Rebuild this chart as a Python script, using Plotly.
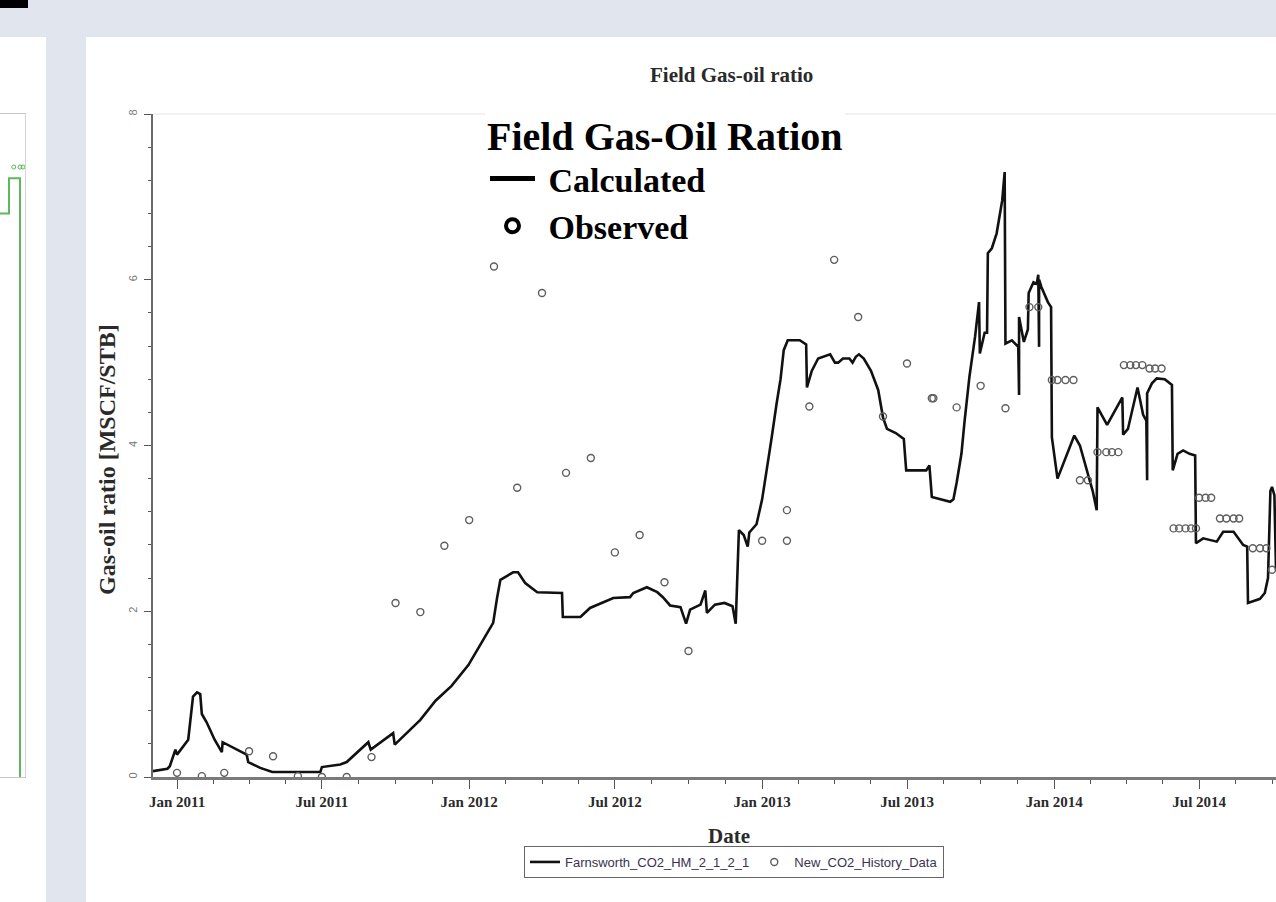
import pandas as pd
import plotly.graph_objects as go

W, H = 1276, 902

# ---- Simulated field gas-oil ratio (MSCF/STB) ----
calc_dates = [
    "2010-12-01", "2010-12-20", "2010-12-23", "2010-12-30", "2011-01-01", "2011-01-11",
    "2011-01-15", "2011-01-21", "2011-01-26", "2011-01-30", "2011-02-01", "2011-02-07",
    "2011-02-17", "2011-02-26", "2011-02-27", "2011-03-29", "2011-03-31", "2011-04-15",
    "2011-04-30", "2011-06-29", "2011-07-01", "2011-07-24", "2011-08-01", "2011-08-28",
    "2011-08-31", "2011-09-28", "2011-09-30", "2011-11-01", "2011-11-20", "2011-12-10",
    "2011-12-20", "2011-12-31", "2012-01-11", "2012-01-31", "2012-02-05", "2012-02-09",
    "2012-02-25", "2012-03-02", "2012-03-11", "2012-03-26", "2012-04-26", "2012-04-27",
    "2012-05-19", "2012-05-31", "2012-06-29", "2012-07-20", "2012-07-24", "2012-08-10",
    "2012-08-23", "2012-08-30", "2012-09-08", "2012-09-21", "2012-09-28", "2012-10-03",
    "2012-10-16", "2012-10-22", "2012-10-24", "2012-11-03", "2012-11-15", "2012-11-25",
    "2012-11-29", "2012-12-03", "2012-12-09", "2012-12-14", "2012-12-16", "2012-12-25",
    "2013-01-01", "2013-01-07", "2013-01-13", "2013-01-19", "2013-01-24", "2013-01-28",
    "2013-02-02", "2013-02-17", "2013-02-25", "2013-02-26", "2013-03-04", "2013-03-12",
    "2013-03-27", "2013-04-02", "2013-04-06", "2013-04-12", "2013-04-20", "2013-04-24",
    "2013-04-28", "2013-05-02", "2013-05-08", "2013-05-17", "2013-05-26", "2013-06-01",
    "2013-06-06", "2013-06-17", "2013-06-27", "2013-06-30", "2013-07-25", "2013-07-29",
    "2013-08-01", "2013-08-24", "2013-08-28", "2013-09-01", "2013-09-07", "2013-09-11",
    "2013-09-17", "2013-09-24", "2013-09-29", "2013-09-30", "2013-10-06", "2013-10-09",
    "2013-10-10", "2013-10-15", "2013-10-21", "2013-10-28", "2013-10-31", "2013-11-01",
    "2013-11-09", "2013-11-17", "2013-11-18", "2013-11-18", "2013-11-24", "2013-11-29",
    "2013-11-30", "2013-12-06", "2013-12-10", "2013-12-12", "2013-12-13", "2013-12-13",
    "2013-12-16", "2013-12-24", "2013-12-28", "2013-12-29", "2014-01-05", "2014-01-15",
    "2014-01-26", "2014-02-02", "2014-02-12", "2014-02-18", "2014-02-23", "2014-02-24",
    "2014-03-08", "2014-03-27", "2014-03-28", "2014-04-03", "2014-04-15", "2014-04-22",
    "2014-04-26", "2014-04-27", "2014-04-27", "2014-05-03", "2014-05-09", "2014-05-19",
    "2014-05-28", "2014-05-29", "2014-06-04", "2014-06-11", "2014-06-19", "2014-06-26",
    "2014-06-27", "2014-07-06", "2014-07-23", "2014-07-31", "2014-08-13", "2014-08-25",
    "2014-08-30", "2014-08-31", "2014-09-15", "2014-09-21", "2014-09-25", "2014-09-28",
    "2014-09-30", "2014-10-03", "2014-10-05",
]
calc_values = [
    0.07, 0.10, 0.13, 0.33, 0.27, 0.39,
    0.45, 0.97, 1.02, 1.00, 0.76, 0.66,
    0.45, 0.30, 0.42, 0.27, 0.18, 0.11,
    0.06, 0.06, 0.12, 0.15, 0.18, 0.42,
    0.33, 0.53, 0.39, 0.69, 0.92, 1.10,
    1.22, 1.35, 1.53, 1.86, 2.17, 2.38,
    2.47, 2.47, 2.34, 2.23, 2.22, 1.93,
    1.93, 2.04, 2.16, 2.17, 2.22, 2.29,
    2.23, 2.17, 2.07, 2.05, 1.85, 2.02,
    2.08, 2.25, 1.98, 2.08, 2.10, 2.06,
    1.85, 2.98, 2.92, 2.78, 2.95, 3.05,
    3.35, 3.70, 4.10, 4.50, 4.80, 5.15,
    5.27, 5.27, 5.22, 4.70, 4.90, 5.05,
    5.10, 5.00, 5.00, 5.05, 5.05, 5.00,
    5.07, 5.10, 5.05, 4.90, 4.67, 4.34,
    4.20, 4.15, 4.08, 3.70, 3.70, 3.76,
    3.38, 3.32, 3.35, 3.55, 3.90, 4.30,
    4.83, 5.31, 5.73, 5.11, 5.36, 5.36,
    6.32, 6.38, 6.56, 6.96, 7.30, 5.23,
    5.27, 5.19, 4.61, 5.55, 5.25, 5.40,
    5.84, 5.97, 5.95, 6.06, 5.19, 6.00,
    5.91, 5.73, 5.67, 4.10, 3.60, 3.85,
    4.12, 4.00, 3.65, 3.45, 3.22, 4.46,
    4.25, 4.58, 4.13, 4.20, 4.70, 4.37,
    4.30, 3.58, 4.63, 4.75, 4.81, 4.80,
    4.73, 3.70, 3.90, 3.94, 3.90, 3.88,
    2.82, 2.88, 2.84, 2.96, 2.96, 2.80,
    2.78, 2.10, 2.15, 2.22, 2.40, 3.45,
    3.50, 3.40, 2.50,
]

# ---- Field history data (MSCF/STB) ----
obs_dates = [
    "2011-01-01", "2011-02-01", "2011-03-01", "2011-04-01", "2011-05-01", "2011-06-01",
    "2011-07-01", "2011-08-01", "2011-09-01", "2011-10-01", "2011-11-01", "2011-12-01",
    "2012-01-01", "2012-02-01", "2012-03-01", "2012-04-01", "2012-05-01", "2012-06-01",
    "2012-07-01", "2012-08-01", "2012-09-01", "2012-10-01", "2013-01-01", "2013-02-01",
    "2013-02-01", "2013-03-01", "2013-04-01", "2013-05-01", "2013-06-01", "2013-07-01",
    "2013-08-01", "2013-08-03", "2013-09-01", "2013-10-01", "2013-11-01", "2013-12-01",
    "2013-12-12", "2013-12-29", "2014-01-05", "2014-01-15", "2014-01-25", "2014-02-02",
    "2014-02-12", "2014-02-24", "2014-03-07", "2014-03-14", "2014-03-22", "2014-03-29",
    "2014-04-06", "2014-04-13", "2014-04-21", "2014-04-30", "2014-05-07", "2014-05-15",
    "2014-05-30", "2014-06-06", "2014-06-14", "2014-06-21", "2014-06-27", "2014-07-01",
    "2014-07-09", "2014-07-16", "2014-07-27", "2014-08-04", "2014-08-13", "2014-08-20",
    "2014-09-06", "2014-09-15", "2014-09-23", "2014-09-30",
]
obs_values = [
    0.05, 0.01, 0.05, 0.31, 0.25, 0.01,
    0.00, 0.00, 0.24, 2.10, 1.99, 2.79,
    3.10, 6.16, 3.49, 5.84, 3.67, 3.85,
    2.71, 2.92, 2.35, 1.52, 2.85, 2.85,
    3.22, 4.47, 6.24, 5.55, 4.35, 4.99,
    4.57, 4.57, 4.46, 4.72, 4.45, 5.67,
    5.67, 4.79, 4.79, 4.79, 4.79, 3.58,
    3.58, 3.92, 3.92, 3.92, 3.92, 4.97,
    4.97, 4.97, 4.97, 4.93, 4.93, 4.93,
    3.00, 3.00, 3.00, 3.00, 3.00, 3.37,
    3.37, 3.37, 3.12, 3.12, 3.12, 3.12,
    2.76, 2.76, 2.76, 2.50,
]

# ---- Neighbouring panel (partly visible on the left) ----
side_x = [0.0, 0.36, 0.36, 0.80, 0.80]
side_y = [0.85, 0.85, 0.903, 0.903, 0.0]
side_pts_x = [0.55, 0.80, 0.92]
side_pts_y = [0.92, 0.92, 0.92]

y_ticks = [0, 2, 4, 6, 8]
x_range = ["2010-12-02", "2014-10-05"]

SERIF = "Liberation Serif"
SANS = "Liberation Sans"
BG = "#e0e5ee"
NBSP = "\u00a0"


def px_x(p):
    return p / W


def px_y(p):
    return 1 - p / H


# minor date ticks: three between each Jan / Jul pair
majors = pd.date_range("2010-07-01", "2015-01-01", freq="6MS")
minor_ticks = []
for a, b in zip(majors[:-1], majors[1:]):
    for f in (0.25, 0.5, 0.75):
        minor_ticks.append(a + (b - a) * f)

fig = go.Figure()

fig.add_trace(go.Scatter(
    x=calc_dates, y=calc_values, mode="lines", name="Farnsworth_CO2_HM_2_1_2_1",
    line=dict(color="#111111", width=2.6), legend="legend",
))
fig.add_trace(go.Scatter(
    x=obs_dates, y=obs_values, mode="markers", name="New_CO2_History_Data",
    marker=dict(symbol="circle-open", size=7, color="#5e5e5e", line=dict(width=1.4)),
    legend="legend",
))

# key added over the plot
fig.add_trace(go.Scatter(
    x=[None], y=[None], mode="lines", name=NBSP + "Calculated",
    line=dict(color="black", width=5), legend="legend2",
))
fig.add_trace(go.Scatter(
    x=[None], y=[None], mode="markers", name=NBSP + "Observed",
    marker=dict(symbol="circle-open", size=13, color="black", line=dict(width=4)),
    legend="legend2",
))

# left neighbour panel
fig.add_trace(go.Scatter(
    x=side_x, y=side_y, mode="lines", xaxis="x2", yaxis="y2", showlegend=False,
    line=dict(color="#5cb85c", width=2),
))
fig.add_trace(go.Scatter(
    x=side_pts_x, y=side_pts_y, mode="markers", xaxis="x2", yaxis="y2", showlegend=False,
    marker=dict(symbol="circle-open", size=4, color="#5cb85c", line=dict(width=1)),
))

y_dom = [px_y(777), px_y(114)]

shapes = [
    dict(type="rect", xref="paper", yref="paper", x0=px_x(86), x1=1, y0=0, y1=px_y(37),
         fillcolor="white", line_width=0, layer="below"),
    dict(type="rect", xref="paper", yref="paper", x0=0, x1=px_x(46), y0=0, y1=px_y(37),
         fillcolor="white", line_width=0, layer="below"),
    dict(type="rect", xref="paper", yref="paper", x0=0, x1=px_x(28), y0=px_y(8), y1=1,
         fillcolor="black", line_width=0, layer="below"),
    dict(type="line", xref="x domain", yref="y domain", x0=0, x1=1, y0=1, y1=1,
         line=dict(color="#ececec", width=1.5), layer="below"),
]

annotations = [
    dict(text="Field Gas-oil ratio", x=px_x(731), y=px_y(75), xref="paper", yref="paper",
         showarrow=False, xanchor="center", yanchor="middle",
         font=dict(family=SERIF, size=21, color="#2a2a2a", weight="bold")),
    dict(text="Date", x=px_x(729), y=px_y(836), xref="paper", yref="paper",
         showarrow=False, xanchor="center", yanchor="middle",
         font=dict(family=SERIF, size=21, color="#2a2a2a", weight="bold")),
    dict(text="Gas-oil ratio [MSCF/STB]", x=px_x(107), y=px_y(459), xref="paper", yref="paper",
         showarrow=False, xanchor="center", yanchor="middle", textangle=-90,
         font=dict(family=SERIF, size=24, color="#2a2a2a", weight="bold")),
]

fig.update_layout(
    width=W, height=H,
    margin=dict(l=0, r=0, t=0, b=0, autoexpand=False),
    paper_bgcolor=BG, plot_bgcolor="white",
    shapes=shapes, annotations=annotations,
    xaxis=dict(
        domain=[px_x(153), 1], range=x_range, type="date",
        tick0="2011-01-01", dtick="M6", tickformat="%b %Y",
        ticks="outside", ticklen=9, tickwidth=1.2, tickcolor="#555",
        showline=True, linecolor="#7a7a7a", linewidth=2.5,
        showgrid=False, zeroline=False,
        tickfont=dict(family=SERIF, size=15, color="#2a2a2a", weight="bold"),
        minor=dict(tickmode="array", tickvals=minor_ticks, ticks="outside",
                   ticklen=4, tickcolor="#555", tickwidth=1.2),
    ),
    yaxis=dict(
        domain=y_dom, range=[0, 8], tickvals=y_ticks,
        ticks="outside", ticklen=7, tickwidth=1.2, tickcolor="#555",
        showline=True, linecolor="#6a6a6a", linewidth=2,
        showgrid=False, zeroline=False, tickangle=-90, ticklabelstandoff=3,
        tickfont=dict(family=SANS, size=11, color="#777"),
        minor=dict(dtick=0.4, ticks="outside", ticklen=3, tickcolor="#555", tickwidth=1.2),
    ),
    xaxis2=dict(
        domain=[0, px_x(25)], range=[0, 1], anchor="y2",
        showline=True, mirror=True, linecolor="#c8c8c8", linewidth=1,
        showticklabels=False, ticks="", showgrid=False, zeroline=False,
    ),
    yaxis2=dict(
        domain=y_dom, range=[0, 1], anchor="x2",
        showline=True, mirror=True, linecolor="#d6d6d6", linewidth=1,
        showticklabels=False, ticks="", showgrid=False, zeroline=False,
    ),
    legend=dict(
        orientation="h", x=px_x(524), y=px_y(846), xanchor="left", yanchor="top",
        bgcolor="white", bordercolor="#666", borderwidth=1,
        font=dict(family=SANS, size=13, color="#3a3350"), itemwidth=30,
    ),
    legend2=dict(
        x=px_x(485), y=px_y(98), xanchor="left", yanchor="top",
        bgcolor="white", borderwidth=0, itemwidth=45,
        title=dict(text="Field Gas-Oil Ration",
                   font=dict(family=SERIF, size=40, color="black", weight="bold")),
        font=dict(family=SERIF, size=34, color="black", weight="bold"),
        tracegroupgap=0,
    ),
    showlegend=True,
)

fig.write_html("out.html")
